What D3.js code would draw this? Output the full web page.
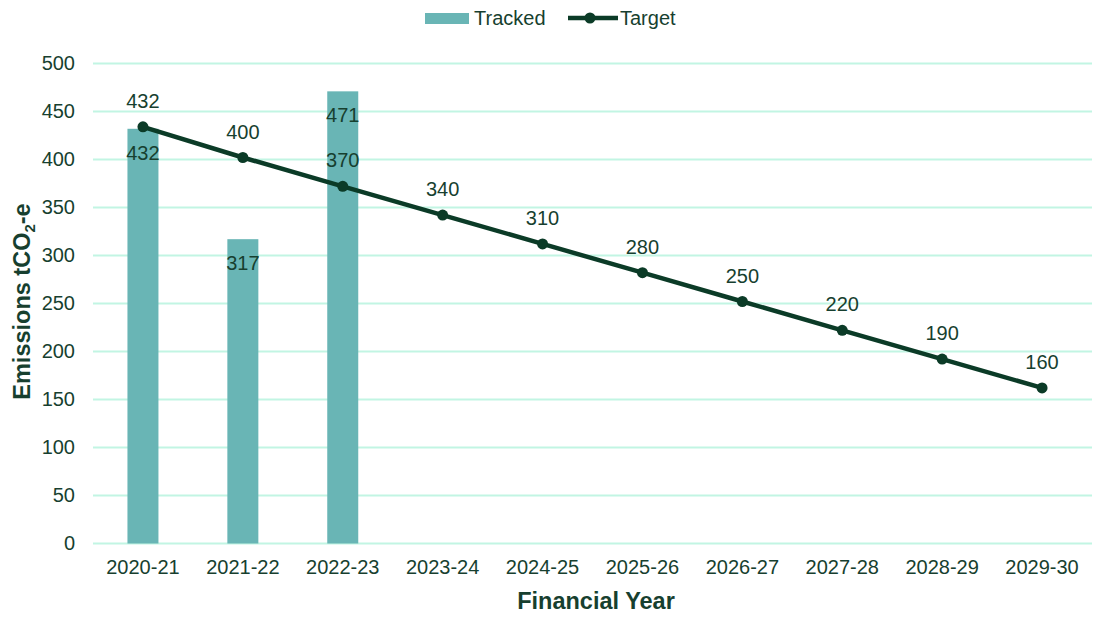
<!DOCTYPE html>
<html>
<head>
<meta charset="utf-8">
<script src="https://cdn.jsdelivr.net/npm/d3@7"></script>
<style>
  body { margin: 0; background: #fff; }
  svg { font-family: "Liberation Sans", Arial, sans-serif; }
  .tick text { fill: #173f2f; font-size: 20px; }
  .grid line { stroke: #c2f5e3; stroke-width: 2; }
</style>
</head>
<body>
<div id="chart"></div>
<script>
const YEARS = ['2020-21', '2021-22', '2022-23', '2023-24', '2024-25', '2025-26', '2026-27', '2027-28', '2028-29', '2029-30'];
const TRACKED = [432, 317, 471];
const TARGET = [432, 400, 370, 340, 310, 280, 250, 220, 190, 160];
const Y_TICKS = [0, 50, 100, 150, 200, 250, 300, 350, 400, 450, 500];

const WIDTH = 1096, HEIGHT = 619;
const MARGIN = {left: 93, right: 4, top: 63.5, bottom: 75.5};

const TEXT_COLOR = '#173f2f';
const BAR_COLOR = '#69b5b5';
const LINE_COLOR = '#0b3b27';

const svg = d3.select('#chart').append('svg')
    .attr('width', WIDTH)
    .attr('height', HEIGHT);

const x = d3.scaleBand()
    .domain(YEARS)
    .range([MARGIN.left, WIDTH - MARGIN.right]);

const y = d3.scaleLinear()
    .domain([0, 500])
    .range([HEIGHT - MARGIN.bottom, MARGIN.top]);

const cx = i => x(YEARS[i]) + x.bandwidth() / 2;

// gridlines
svg.append('g')
    .attr('class', 'grid')
    .selectAll('line')
    .data(Y_TICKS)
    .enter().append('line')
        .attr('x1', MARGIN.left)
        .attr('x2', WIDTH - MARGIN.right)
        .attr('y1', d => y(d))
        .attr('y2', d => y(d));

// y axis
const yAxis = svg.append('g')
    .attr('transform', `translate(${MARGIN.left - 18}, 0)`)
    .call(d3.axisLeft(y).tickValues(Y_TICKS).tickSize(0).tickPadding(0));
yAxis.select('.domain').remove();

// x axis
const xAxis = svg.append('g')
    .attr('transform', `translate(0, ${HEIGHT - MARGIN.bottom})`)
    .call(d3.axisBottom(x).tickSize(0).tickPadding(16));
xAxis.select('.domain').remove();

// bars
const BAR_W = 31;
svg.append('g')
    .selectAll('rect')
    .data(TRACKED)
    .enter().append('rect')
        .attr('x', (d, i) => cx(i) - BAR_W / 2)
        .attr('y', d => y(d))
        .attr('width', BAR_W)
        .attr('height', d => y(0) - y(d))
        .attr('fill', BAR_COLOR);

// target line (drawn a touch above, like the original)
const lineG = svg.append('g').attr('transform', 'translate(0, -2)');
const line = d3.line()
    .x((d, i) => cx(i))
    .y(d => y(d));

lineG.append('path')
    .datum(TARGET)
    .attr('d', line)
    .attr('fill', 'none')
    .attr('stroke', LINE_COLOR)
    .attr('stroke-width', 4.5);

lineG.selectAll('circle')
    .data(TARGET)
    .enter().append('circle')
        .attr('cx', (d, i) => cx(i))
        .attr('cy', d => y(d))
        .attr('r', 5.5)
        .attr('fill', LINE_COLOR);

// labels
lineG.selectAll('text')
    .data(TARGET)
    .enter().append('text')
        .attr('x', (d, i) => cx(i))
        .attr('y', d => y(d) - 19)
        .attr('text-anchor', 'middle')
        .attr('font-size', 20)
        .attr('fill', TEXT_COLOR)
        .text(d => d);

svg.append('g')
    .selectAll('text')
    .data(TRACKED)
    .enter().append('text')
        .attr('x', (d, i) => cx(i))
        .attr('y', d => y(d) + 31)
        .attr('text-anchor', 'middle')
        .attr('font-size', 20)
        .attr('fill', TEXT_COLOR)
        .text(d => d);

// axis titles
svg.append('text')
    .attr('x', 596)
    .attr('y', 609)
    .attr('text-anchor', 'middle')
    .attr('font-size', 23.5)
    .attr('font-weight', 'bold')
    .attr('fill', TEXT_COLOR)
    .text('Financial Year');

const yTitle = svg.append('text')
    .attr('transform', `translate(30, ${y(250) - 2}) rotate(-90)`)
    .attr('text-anchor', 'middle')
    .attr('font-size', 23.5)
    .attr('font-weight', 'bold')
    .attr('fill', TEXT_COLOR);
yTitle.append('tspan').text('Emissions tCO');
yTitle.append('tspan').attr('font-size', 15).attr('dy', 5).text('2');
yTitle.append('tspan').attr('dy', -5).text('-e');

// legend
const legend = svg.append('g').attr('transform', 'translate(0, 18)');
legend.append('rect')
    .attr('x', 425).attr('y', -5)
    .attr('width', 44).attr('height', 11)
    .attr('fill', BAR_COLOR);
legend.append('text')
    .attr('x', 474).attr('y', 7)
    .attr('font-size', 20)
    .attr('fill', TEXT_COLOR)
    .text('Tracked');
legend.append('line')
    .attr('x1', 568).attr('x2', 618)
    .attr('y1', 0).attr('y2', 0)
    .attr('stroke', LINE_COLOR)
    .attr('stroke-width', 4.5);
legend.append('circle')
    .attr('cx', 590).attr('cy', 0)
    .attr('r', 5.5)
    .attr('fill', LINE_COLOR);
legend.append('text')
    .attr('x', 620).attr('y', 7)
    .attr('font-size', 20)
    .attr('fill', TEXT_COLOR)
    .text('Target');
</script>
</body>
</html>
